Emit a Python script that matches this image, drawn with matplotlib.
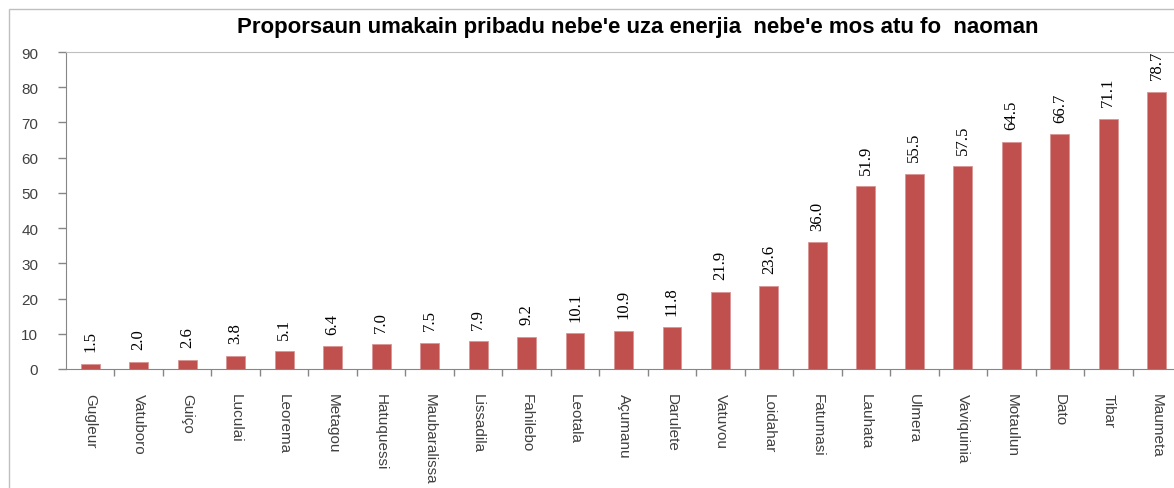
import matplotlib.pyplot as plt
from matplotlib.patches import Rectangle
import numpy as np

#---------- DATA ---------------------------------------------------------------
suku = ['Gugleur', 'Vatuboro', 'Guiço', 'Luculai', 'Leorema', 'Metagou',
        'Hatuquessi', 'Maubaralissa', 'Lissadila', 'Fahilebo', 'Leotala',
        'Açumanu', 'Darulete', 'Vatuvou', 'Loidahar', 'Fatumasi', 'Lauhata',
        'Ulmera', 'Vaviquinia', 'Motaulun', 'Dato', 'Tibar', 'Maumeta']
proporsaun = [1.5, 2.0, 2.6, 3.8, 5.1, 6.4, 7.0, 7.5, 7.9, 9.2, 10.1,
              10.9, 11.8, 21.9, 23.6, 36.0, 51.9, 55.5, 57.5, 64.5, 66.7,
              71.1, 78.7]
yticks = [0, 10, 20, 30, 40, 50, 60, 70, 80, 90]
titulu = "Proporsaun umakain pribadu nebe'e uza enerjia  nebe'e mos atu fo  naoman"
#------------------------------------------------------------------------------

bar_color = '#C0504D'
txt_color = '#404040'

fig = plt.figure(figsize=(11.74, 4.89), dpi=100)
W, H = 1174, 489

# chart frame (runs off the right/bottom edge like the screenshot)
fig.patches.append(Rectangle((9 / W, -0.05), 1.1, 1 - 10 / H + 0.05,
                             transform=fig.transFigure, fill=False,
                             edgecolor='#BFBFBF', linewidth=1))

ax = fig.add_axes([66 / W, (H - 370) / H, (1181 - 66) / W, 317 / H])

x = np.arange(len(suku))
ax.bar(x, proporsaun, width=0.39, color=bar_color, edgecolor='#D99694',
       linewidth=0.6, zorder=2)

for xi, v in zip(x, proporsaun):
    ax.annotate('%.1f' % v, (xi, v), xytext=(0, 9), textcoords='offset points',
                rotation=90, ha='center', va='bottom',
                fontfamily='Liberation Serif', fontsize=12, color='black')

ax.set_xlim(-0.5, len(suku) - 0.5)
ax.set_ylim(0, 90)
ax.set_yticks(yticks)
ax.set_yticklabels([str(t) for t in yticks], fontfamily='Liberation Sans',
                   fontsize=11, color=txt_color)
ax.tick_params(axis='y', direction='out', length=6, width=1,
               color='#868686', pad=14)

ax.set_xticks(x)
ax.set_xticklabels(suku, rotation=270, fontfamily='Liberation Sans',
                   fontsize=11, color=txt_color, ha='center', va='top')
ax.tick_params(axis='x', which='major', length=0, pad=17)
ax.set_xticks(np.arange(0.5, len(suku) - 1, 1), minor=True)
ax.tick_params(axis='x', which='minor', direction='out', length=5, width=1,
               color='#868686')

ax.spines['left'].set_color('#868686')
ax.spines['bottom'].set_color('#868686')
ax.spines['top'].set_color('#BFBFBF')
ax.spines['right'].set_visible(False)

fig.text(638 / W, 1 - 27 / H, titulu, ha='center', va='center',
         fontfamily='Liberation Sans', fontweight='bold', fontsize=16,
         color='black')

fig.savefig('out.png', dpi=100)
